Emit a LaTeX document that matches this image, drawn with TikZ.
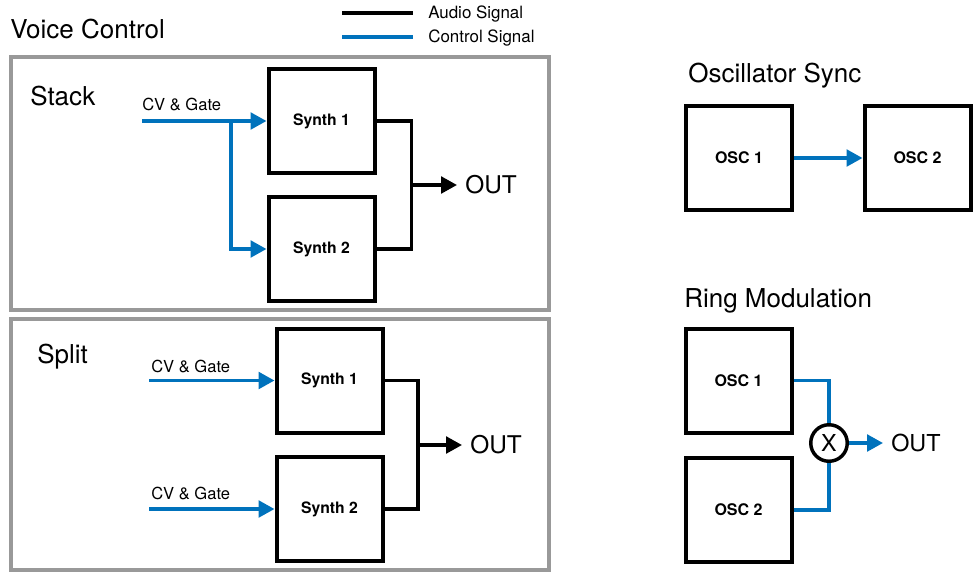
\documentclass[tikz,border=0pt]{standalone}
\usepackage{fontspec}
\setmainfont{TeX Gyre Heros}
\usetikzlibrary{arrows.meta}
\definecolor{ctlblue}{RGB}{0,114,188}
\definecolor{framegray}{RGB}{153,153,153}
\begin{document}
\begin{tikzpicture}[x=0.75pt,y=-0.75pt,
  synthbox/.style={draw=black, line width=3pt, minimum width=79.5pt, minimum height=78pt, inner sep=0pt, font=\fontsize{11.8}{14}\selectfont\bfseries},
  oscbox/.style={synthbox, font=\fontsize{12}{14}\selectfont\bfseries},
  framebox/.style={draw=framegray, line width=3pt},
  heading/.style={anchor=base west, inner sep=0pt, font=\fontsize{19.5}{23}\selectfont},
  cvlabel/.style={anchor=base west, inner sep=0pt, font=\fontsize{12.4}{15}\selectfont},
  outlabel/.style={anchor=west, inner xsep=6pt, inner ysep=0pt, font=\fontsize{18.3}{21}\selectfont},
  legendtext/.style={anchor=base west, inner sep=0pt, font=\fontsize{12.7}{15}\selectfont},
  ctl/.style={draw=ctlblue, line width=2.6pt},
  audio/.style={draw=black, line width=2.6pt},
  tip/.style={-{Triangle[length=12pt,width=12.5pt]}},
  mixer/.style={circle, draw=black, line width=2.6pt, minimum size=27.4pt, inner sep=0pt, font=\fontsize{17.5}{19}\selectfont},
]
\useasboundingbox (0,0) rectangle (973,572);

% title and legend
\node[heading] (title) at (10,38) {Voice Control};
\coordinate (legA1) at (342,13);
\coordinate (legA2) at (413,13);
\coordinate (legC1) at (342,37);
\coordinate (legC2) at (413,37);
\draw[audio] (legA1) -- (legA2);
\draw[ctl] (legC1) -- (legC2);
\node[legendtext] (legAtext) at (428,18) {Audio Signal};
\node[legendtext] (legCtext) at (428,42) {Control Signal};

% frames
\draw[framebox] (11,57) rectangle (549,310);
\draw[framebox] (11,319) rectangle (549,570);

% Stack
\node[heading] (stack) at (30,105) {Stack};
\node[cvlabel] (scv) at (142,110) {CV \& Gate};
\node[synthbox] (s1) at (321.5,121) {Synth 1};
\node[synthbox] (s2) at (321.5,249) {Synth 2};
\coordinate (sin) at (142,121);
\coordinate (sbr) at (231,121);
\draw[ctl,tip] (sin) -- (s1.west);
\draw[ctl,tip] (sbr) |- (s2.west);
\coordinate (sj) at (411.5,185);
\draw[audio] (s1.east) -| (sj) |- (s2.east);
\node[outlabel] (sout) at (457,185) {OUT};
\draw[audio,tip] (sj) -- (sout.west);

% Split
\node[heading] (split) at (37,363) {Split};
\node[cvlabel] (pcv1) at (151,372) {CV \& Gate};
\node[cvlabel] (pcv2) at (151,499) {CV \& Gate};
\node[synthbox] (p1) at (329.5,380.5) {Synth 1};
\node[synthbox] (p2) at (329.5,509) {Synth 2};
\coordinate (pin1) at (149,380.5);
\coordinate (pin2) at (149,509);
\draw[ctl,tip] (pin1) -- (p1.west);
\draw[ctl,tip] (pin2) -- (p2.west);
\coordinate (pj) at (418,445);
\draw[audio] (p1.east) -| (pj) |- (p2.east);
\node[outlabel] (pout) at (462,445) {OUT};
\draw[audio,tip] (pj) -- (pout.west);

% Oscillator Sync
\node[heading] (oschead) at (688,82) {Oscillator Sync};
\node[oscbox] (o1) at (739,158) {OSC 1};
\node[oscbox] (o2) at (917.5,158) {OSC 2};
\draw[ctl,tip] (o1.east) -- (o2.west);

% Ring Modulation
\node[heading] (ringhead) at (684,307) {Ring Modulation};
\node[oscbox] (r1) at (738.5,380.5) {OSC 1};
\node[oscbox] (r2) at (738.5,510) {OSC 2};
\node[mixer] (rx) at (829,443) {X};
\draw[ctl] (r1.east) -| (rx.north);
\draw[ctl] (r2.east) -| (rx.south);
\node[outlabel, font=\fontsize{17.5}{20}\selectfont] (rout) at (883,443) {OUT};
\draw[ctl,tip] (rx.east) -- (rout.west);
\end{tikzpicture}
\end{document}
